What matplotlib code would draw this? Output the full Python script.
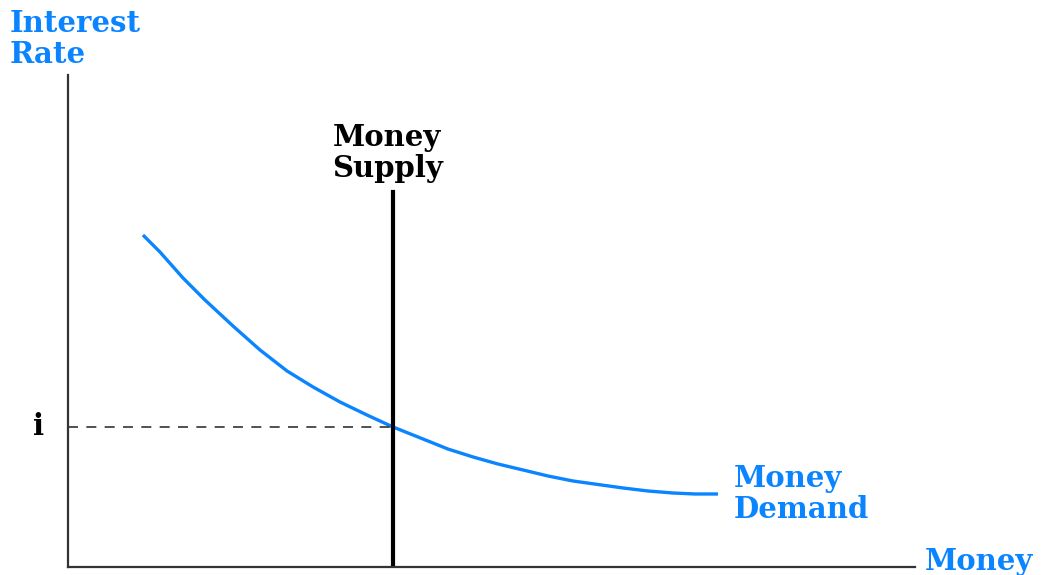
import matplotlib
matplotlib.use("Agg")
import matplotlib.pyplot as plt

# money demand curve (money, interest rate)
demand_x = [8.85, 10.86, 13.58, 16.17, 19.48, 22.67, 25.86, 28.93, 32.11, 35.30, 38.37,
            41.91, 44.86, 47.82, 50.77, 53.72, 56.67, 59.62, 62.57, 65.53, 68.48, 71.43,
            74.03, 76.74]
demand_y = [67.48, 64.02, 58.74, 54.27, 48.98, 44.11, 39.84, 36.59, 33.54, 30.89, 28.46,
            26.02, 23.98, 22.36, 20.93, 19.72, 18.50, 17.48, 16.77, 16.06, 15.45, 15.04,
            14.84, 14.84]

supply_x = 38.4
supply_top = 76.2
rate_i = 28.46

blue = "#0A84FF"
serif = "DejaVu Serif"

fig = plt.figure(figsize=(10.57, 5.75), dpi=100)
ax = fig.add_axes([68 / 1057, 8 / 575, 847 / 1057, 492 / 575])
ax.set_xlim(0, 100)
ax.set_ylim(0, 100)

# axes
for s in ["top", "right"]:
    ax.spines[s].set_visible(False)
for s in ["left", "bottom"]:
    ax.spines[s].set_color("#333333")
    ax.spines[s].set_linewidth(1.6)
ax.set_xticks([])
ax.set_yticks([])

# curves
ax.plot(demand_x, demand_y, color=blue, lw=2.4, solid_capstyle="butt")
ax.plot([supply_x, supply_x], [0, supply_top], color="black", lw=3)
ax.plot([0, supply_x], [rate_i, rate_i], color="#333333", lw=1.2, ls=(0, (6, 5)))

# labels
fs = 21
fig.text(10 / 1057, 1 - 9 / 575, "Interest\nRate", color=blue, fontsize=fs,
         fontweight="bold", family=serif, va="top", ha="left", linespacing=1.1)
ax.text(supply_x - 0.7, supply_top + 1.8, "Money\nSupply", color="black", fontsize=fs,
        fontweight="bold", family=serif, va="bottom", ha="center", linespacing=1.1)
ax.text(78.6, 14.8, "Money\nDemand", color=blue, fontsize=fs,
        fontweight="bold", family=serif, va="center", ha="left", linespacing=1.1)
ax.text(-2.8, rate_i, "i", color="black", fontsize=fs, fontweight="bold",
        family=serif, va="center", ha="right")
fig.text(925 / 1057, 1 - 547 / 575, "Money", color=blue, fontsize=fs,
         fontweight="bold", family=serif, va="top", ha="left")

fig.savefig("out.png", dpi=100)
